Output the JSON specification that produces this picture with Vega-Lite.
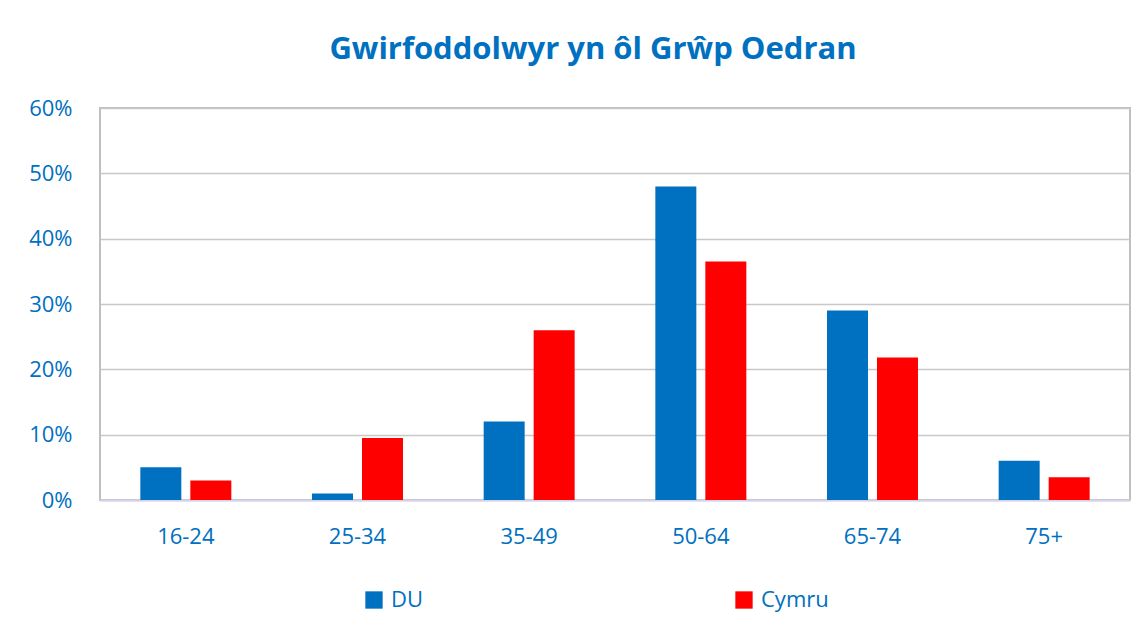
{
  "$schema": "https://vega.github.io/schema/vega-lite/v6.json",
  "width": 1030,
  "height": 392,
  "autosize": {"type": "none"},
  "padding": {"left": 100, "top": 108, "right": 16, "bottom": 133},
  "background": "white",
  "title": {
    "text": "Gwirfoddolwyr yn ôl Grŵp Oedran",
    "font": "Open Sans",
    "fontSize": 31,
    "fontWeight": "bold",
    "color": "#0070C0",
    "anchor": "middle",
    "dx": -22,
    "offset": 31
  },
  "data": {
    "values": [
      {"age": "16-24", "group": "DU", "value": 0.05},
      {"age": "16-24", "group": "Cymru", "value": 0.03},
      {"age": "25-34", "group": "DU", "value": 0.01},
      {"age": "25-34", "group": "Cymru", "value": 0.095},
      {"age": "35-49", "group": "DU", "value": 0.12},
      {"age": "35-49", "group": "Cymru", "value": 0.26},
      {"age": "50-64", "group": "DU", "value": 0.48},
      {"age": "50-64", "group": "Cymru", "value": 0.365},
      {"age": "65-74", "group": "DU", "value": 0.29},
      {"age": "65-74", "group": "Cymru", "value": 0.218},
      {"age": "75+", "group": "DU", "value": 0.06},
      {"age": "75+", "group": "Cymru", "value": 0.035}
    ]
  },
  "mark": {"type": "bar"},
  "encoding": {
    "x": {
      "field": "age",
      "type": "nominal",
      "sort": null,
      "scale": {"paddingInner": 0.47, "paddingOuter": 0.235},
      "axis": {
        "title": null,
        "labelAngle": 0,
        "labelFont": "Open Sans",
        "labelFontSize": 22,
        "labelColor": "#0070C0",
        "labelPadding": 26,
        "ticks": false,
        "domain": true,
        "domainColor": "#d4d2ec",
        "domainWidth": 2
      }
    },
    "xOffset": {
      "field": "group",
      "type": "nominal",
      "sort": ["DU", "Cymru"],
      "scale": {"paddingInner": 0.18, "paddingOuter": 0}
    },
    "y": {
      "field": "value",
      "type": "quantitative",
      "scale": {"domain": [0, 0.6]},
      "axis": {
        "title": null,
        "format": ".0%",
        "values": [0, 0.1, 0.2, 0.3, 0.4, 0.5, 0.6],
        "labelFont": "Open Sans",
        "labelFontSize": 22,
        "labelColor": "#0070C0",
        "labelPadding": 28,
        "ticks": false,
        "domain": false,
        "grid": true,
        "gridColor": "#c8c8c8",
        "gridWidth": 1.5
      }
    },
    "color": {
      "field": "group",
      "type": "nominal",
      "sort": ["DU", "Cymru"],
      "scale": {"domain": ["DU", "Cymru"], "range": ["#0070C0", "#FF0000"]},
      "legend": {
        "title": null,
        "orient": "none",
        "legendX": 263,
        "legendY": 481,
        "direction": "horizontal",
        "symbolType": "square",
        "symbolSize": 300,
        "symbolStrokeWidth": 0,
        "labelFont": "Open Sans",
        "labelFontSize": 22,
        "labelColor": "#0070C0",
        "labelOffset": 6,
        "columnPadding": 309
      }
    }
  },
  "config": {
    "view": {"stroke": "#bfbfbf", "strokeWidth": 2}
  }
}
